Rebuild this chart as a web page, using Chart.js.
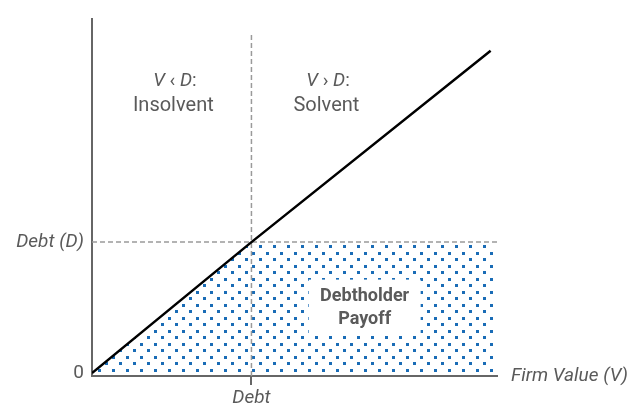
<!DOCTYPE html>
<html>
<head>
<meta charset="utf-8">
<script src="https://cdn.jsdelivr.net/npm/chart.js@4"></script>
<style>
  html, body { margin: 0; padding: 0; background: #fff; }
  #wrap { width: 633px; height: 409px; }
</style>
</head>
<body>
<div id="wrap"><canvas id="payoff-chart"></canvas></div>
<script>
// Debtholder payoff chart

// data (units of Debt)
const firmValue = [0, 1, 2.5];
const diagonal = [0, 1, 2.46];
const payoffX = [0, 1, 2.54];
const payoffY = [0, 1, 1];
const debtLevel = 1;
const xTickValues = [1];
const xTickLabels = ['Debt'];
const yTickValues = [0, 1];
const yTickLabels = ['0', 'Debt (D)'];

const FONT = 'Roboto';
const TEXT = '#5a5a5a';
const AXIS = '#666';

// dotted pattern for the payoff area
const tile = document.createElement('canvas');
tile.width = 14;
tile.height = 13;
const tctx = tile.getContext('2d');
tctx.fillStyle = '#1a6cb6';
tctx.fillRect(0, 0, 3, 3);
tctx.fillRect(7, 6, 3, 3);
const dots = document.getElementById('payoff-chart').getContext('2d').createPattern(tile, 'repeat');
dots.setTransform(new DOMMatrix().translate(0, 5));

function pts(xs, ys) {
    return xs.map((x, i) => ({ x: x, y: ys[i] }));
}

// write mixed italic / upright pieces centred on x
function drawPieces(ctx, pieces, cx, cy, size) {
    let widths = pieces.map(p => {
        ctx.font = (p[1] ? 'italic ' : '') + size + 'px ' + FONT;
        return ctx.measureText(p[0]).width;
    });
    let total = widths.reduce((a, b) => a + b, 0);
    let x = cx - total / 2;
    ctx.textAlign = 'left';
    ctx.textBaseline = 'middle';
    pieces.forEach((p, i) => {
        ctx.font = (p[1] ? 'italic ' : '') + size + 'px ' + FONT;
        ctx.fillText(p[0], x, cy);
        x += widths[i];
    });
}

const labelsPlugin = {
    id: 'labels',
    afterDatasetsDraw(chart) {
        const ctx = chart.ctx;
        const xs = chart.scales.x, ys = chart.scales.y;
        ctx.save();
        ctx.fillStyle = TEXT;

        // region labels
        drawPieces(ctx, [['V', true], [' \u2039 ', false], ['D', true], [':', false]], xs.getPixelForValue(0.52), 81, 19);
        drawPieces(ctx, [['Insolvent', false]], xs.getPixelForValue(0.51), 106, 20);
        drawPieces(ctx, [['V', true], [' \u203A ', false], ['D', true], [':', false]], xs.getPixelForValue(1.48), 81, 19);
        drawPieces(ctx, [['Solvent', false]], xs.getPixelForValue(1.47), 106, 20);

        // payoff label box
        const bx = xs.getPixelForValue(1.71);
        const by = ys.getPixelForValue(0.5);
        ctx.fillStyle = '#fff';
        ctx.fillRect(bx - 56, by - 28, 112, 56);
        ctx.fillStyle = TEXT;
        ctx.font = 'bold 18px ' + FONT;
        ctx.textAlign = 'center';
        ctx.textBaseline = 'middle';
        ctx.fillText('Debtholder', bx, by - 11);
        ctx.fillText('Payoff', bx, by + 12);

        // x axis title
        ctx.font = 'italic 19px ' + FONT;
        ctx.textAlign = 'left';
        ctx.fillText('Firm Value (V)', chart.chartArea.right + 14, chart.chartArea.bottom);
        ctx.restore();
    }
};

new Chart(document.getElementById('payoff-chart'), {
    type: 'line',
    data: {
        datasets: [{
            data: pts(firmValue, diagonal),
            borderColor: '#000',
            borderWidth: 2.5,
            pointRadius: 0,
            fill: false,
            order: 0
        }, {
            data: pts([0, payoffX[2]], [debtLevel, debtLevel]),
            borderColor: '#9a9a9a',
            borderWidth: 1.5,
            borderDash: [5, 3],
            pointRadius: 0,
            fill: false,
            order: 1
        }, {
            data: pts([debtLevel, debtLevel], [-0.022, 2.58]),
            borderColor: '#9a9a9a',
            borderWidth: 1.5,
            borderDash: [5, 3],
            pointRadius: 0,
            fill: false,
            order: 1
        }, {
            data: pts(payoffX, payoffY),
            borderWidth: 0,
            borderColor: 'rgba(0,0,0,0)',
            backgroundColor: dots,
            pointRadius: 0,
            fill: 'origin',
            order: 2
        }]
    },
    options: {
        responsive: true,
        maintainAspectRatio: false,
        animation: false,
        layout: { padding: { top: 11, right: 136, left: 0, bottom: 0 } },
        plugins: {
            legend: { display: false },
            tooltip: { enabled: false }
        },
        scales: {
            x: {
                type: 'linear',
                min: 0,
                max: 2.54,
                afterBuildTicks: s => { s.ticks = xTickValues.map(v => ({ value: v })); },
                afterFit: s => { s.height = 33; },
                border: { display: true, color: AXIS, width: 2 },
                grid: { display: true, drawOnChartArea: false, drawTicks: true, tickLength: 9, color: AXIS, lineWidth: 2 },
                ticks: {
                    autoSkip: false,
                    maxRotation: 0,
                    padding: 2,
                    color: TEXT,
                    font: { family: FONT, size: 19, style: 'italic' },
                    callback: (v) => xTickLabels[xTickValues.indexOf(v)]
                }
            },
            y: {
                type: 'linear',
                min: -0.022,
                max: 2.70,
                afterBuildTicks: s => { s.ticks = yTickValues.map(v => ({ value: v })); },
                afterFit: s => { s.width = 92; },
                border: { display: true, color: AXIS, width: 2 },
                grid: { display: false, drawTicks: false },
                ticks: {
                    autoSkip: false,
                    padding: 8,
                    color: TEXT,
                    font: ctx => ({ family: FONT, size: 19, style: ctx.tick && ctx.tick.value === 0 ? 'normal' : 'italic' }),
                    callback: (v) => yTickLabels[yTickValues.indexOf(v)]
                }
            }
        }
    },
    plugins: [labelsPlugin]
});
</script>
</body>
</html>
